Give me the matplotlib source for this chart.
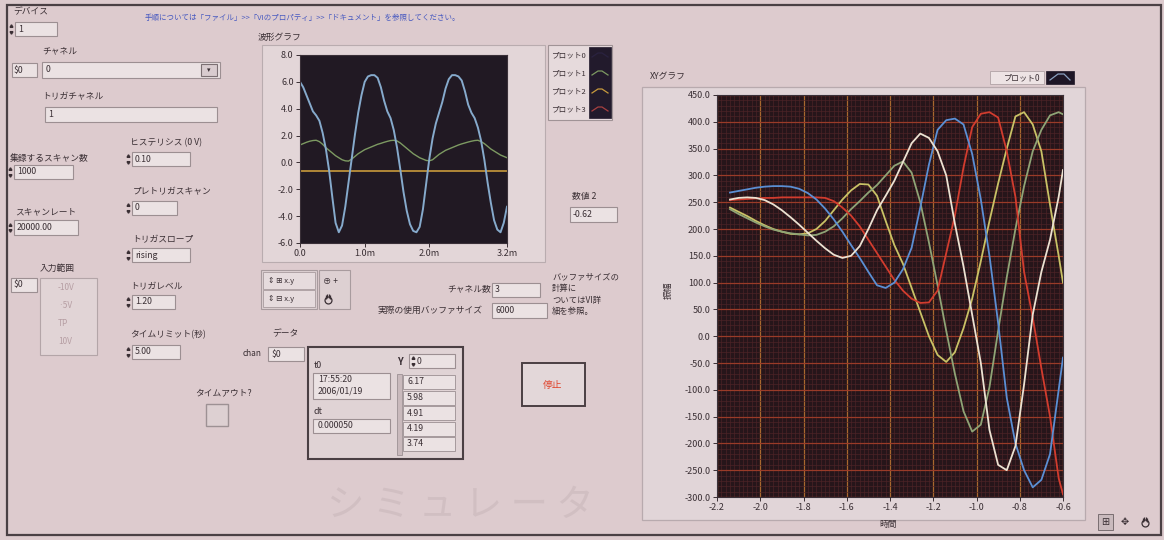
import matplotlib
matplotlib.use("Agg")
import matplotlib.pyplot as plt
from matplotlib.patches import Rectangle
from matplotlib.ticker import MultipleLocator, FixedLocator, FormatStrFormatter

plt.rcParams['font.family'] = ['Noto Sans CJK JP', 'DejaVu Sans']

# ---------------- 波形グラフ ----------------
wave_t_ms = [0.00, 0.05, 0.10, 0.15, 0.20, 0.25, 0.30, 0.35, 0.40, 0.45,
             0.50, 0.55, 0.60, 0.65, 0.70, 0.75, 0.80, 0.85, 0.90, 0.95,
             1.00, 1.05, 1.10, 1.15, 1.20, 1.25, 1.30, 1.35, 1.40, 1.45,
             1.50, 1.55, 1.60, 1.65, 1.70, 1.75, 1.80, 1.85, 1.90, 1.95,
             2.00, 2.05, 2.10, 2.15, 2.20, 2.25, 2.30, 2.35, 2.40, 2.45,
             2.50, 2.55, 2.60, 2.65, 2.70, 2.75, 2.80, 2.85, 2.90, 2.95,
             3.00, 3.05, 3.10, 3.15, 3.20]
wave_plot0 = [6.0, 5.6, 5.0, 4.4, 3.8, 3.5, 3.1, 2.2, 1.0, -0.6,
              -2.6, -4.5, -5.2, -4.7, -3.3, -1.5, 0.3, 2.1, 3.7, 5.0,
              6.0, 6.4, 6.5, 6.5, 6.3, 5.6, 4.6, 3.8, 3.3, 2.4,
              1.1, -0.5, -2.2, -3.6, -4.6, -5.1, -5.2, -4.8, -3.5, -1.6,
              0.3, 1.8, 2.9, 3.7, 4.5, 5.5, 6.2, 6.5, 6.5, 6.4,
              6.1, 5.3, 4.3, 3.7, 3.3, 2.6, 1.6, 0.2, -1.5, -3.0,
              -4.3, -5.0, -5.2, -4.5, -3.3]
wave_plot1 = [1.3, 1.4, 1.5, 1.58, 1.63, 1.65, 1.55, 1.35, 1.1, 0.9,
              0.7, 0.5, 0.35, 0.2, 0.12, 0.1, 0.25, 0.45, 0.65, 0.8,
              0.95, 1.05, 1.15, 1.25, 1.35, 1.42, 1.5, 1.57, 1.63, 1.65,
              1.6, 1.45, 1.25, 1.05, 0.85, 0.65, 0.5, 0.35, 0.25, 0.15,
              0.12, 0.2, 0.4, 0.6, 0.75, 0.9, 1.0, 1.1, 1.2, 1.3,
              1.38, 1.45, 1.52, 1.58, 1.63, 1.65, 1.55, 1.4, 1.2, 1.0,
              0.85, 0.7, 0.55, 0.45, 0.35]
wave_plot2_level = -0.62
wave_yticks = [-6.0, -4.0, -2.0, 0.0, 2.0, 4.0, 6.0, 8.0]
wave_xticks = [0.0, 1.0, 2.0, 3.2]
wave_xticklabels = ["0.0", "1.0m", "2.0m", "3.2m"]
wave_legend = ["プロット0", "プロット1", "プロット2", "プロット3"]

# ---------------- XYグラフ ----------------
xy_x = [-2.14, -2.10, -2.06, -2.02, -1.98, -1.94, -1.90, -1.86, -1.82, -1.78,
        -1.74, -1.70, -1.66, -1.62, -1.58, -1.54, -1.50, -1.46, -1.42, -1.38,
        -1.34, -1.30, -1.26, -1.22, -1.18, -1.14, -1.10, -1.06, -1.02, -0.98,
        -0.94, -0.90, -0.86, -0.82, -0.78, -0.74, -0.70, -0.66, -0.62, -0.60]
xy_blue = [268, 271, 274, 277, 279, 280, 280, 279, 275, 267,
           255, 238, 218, 195, 170, 146, 120, 95, 90, 100,
           125, 165, 240, 320, 385, 403, 406, 395, 340, 255,
           150, 25, -115, -200, -250, -282, -268, -220, -100, -40]
xy_red = [254, 255, 256, 257, 258, 258, 259, 259, 259, 259,
          259, 258, 252, 240, 225, 205, 180, 155, 130, 105,
          85, 70, 62, 63, 85, 155, 225, 315, 390, 415,
          418, 408, 345, 260, 120, 35, -60, -150, -265, -295]
xy_yellow = [240, 232, 224, 215, 207, 200, 195, 191, 190, 192,
             200, 215, 235, 255, 272, 284, 283, 262, 215, 170,
             135, 90, 45, 0, -35, -48, -30, 15, 70, 140,
             215, 285, 350, 410, 418, 395, 345, 245, 150, 100]
xy_white = [255, 258, 259, 258, 254, 246, 235, 222, 208, 193,
            178, 164, 152, 146, 150, 168, 200, 235, 262, 290,
            325, 360, 378, 370, 345, 300, 210, 130, 40, -50,
            -175, -240, -250, -205, -90, 40, 120, 180, 260, 310]
xy_green = [237, 228, 220, 212, 205, 199, 195, 192, 190, 188,
            189, 195, 205, 220, 237, 252, 268, 282, 300, 318,
            326, 305, 250, 175, 95, 10, -70, -140, -178, -165,
            -95, 10, 110, 200, 280, 345, 385, 412, 418, 414]
xy_xticks = [-2.2, -2.0, -1.8, -1.6, -1.4, -1.2, -1.0, -0.8, -0.6]
xy_yticks = [-300, -250, -200, -150, -100, -50, 0, 50, 100, 150, 200, 250, 300, 350, 400, 450]

# ---------------- front panel values ----------------
header_note = "手順については「ファイル」>>「VIのプロパティ」>>「ドキュメント」を参照してください。"
device_value = "1"
channel_value = "0"
trigger_channel_value = "1"
scans_value = "1000"
scan_rate_value = "20000.00"
hysteresis_value = "0.10"
pretrigger_value = "0"
slope_value = "rising"
trigger_level_value = "1.20"
time_limit_value = "5.00"
range_items = ["-10V", "·5V", "TP", "10V"]
channel_count_value = "3"
buffer_size_value = "6000"
numeric2_value = "-0.62"
t0_lines = ["17:55:20", "2006/01/19"]
dt_value = "0.000050"
data_y = ["6.17", "5.98", "4.91", "4.19", "3.74"]

W, H = 1164, 540
BG = "#ddcbce"
PANEL = "#e3d6d8"
FIELD = "#ebe2e3"
EDGE = "#9c8f92"
TXT = "#3a2f34"

fig = plt.figure(figsize=(W / 100, H / 100), dpi=100, facecolor=BG)
ui = fig.add_axes([0, 0, 1, 1])
ui.set_xlim(0, W)
ui.set_ylim(H, 0)
ui.axis("off")


def rect(x0, y0, x1, y1, fc, ec=EDGE, lw=0.8, z=1, alpha=1.0):
    ui.add_patch(Rectangle((x0, y0), x1 - x0, y1 - y0, facecolor=fc,
                           edgecolor=ec, lw=lw, zorder=z, alpha=alpha))


def txt(x, y, s, size=6.3, color=TXT, ha="left", va="center", **kw):
    ui.text(x, y, s, fontsize=size, color=color, ha=ha, va=va, zorder=5, **kw)


def spinner(x, y):
    ui.plot([x], [y - 2.6], marker=(3, 0, 0), ms=2.4, color=TXT, zorder=6)
    ui.plot([x], [y + 2.6], marker=(3, 0, 180), ms=2.4, color=TXT, zorder=6)


def field(x0, y0, x1, y1, s, spin=False, color=TXT):
    rect(x0, y0, x1, y1, FIELD, EDGE, lw=0.8, z=2)
    txt(x0 + 3, (y0 + y1) / 2, s, color=color)
    if spin:
        spinner(x0 - 4, (y0 + y1) / 2)


def hand_icon(x, y):
    # small open-hand pictogram for the panning tool
    ui.plot([x], [y + 1], marker="o", ms=5, mfc="none", mec=TXT, mew=0.9, zorder=6)
    ui.plot([x - 2, x - 0.7, x + 0.7, x + 2], [y - 2.5, y - 3.5, y - 3.5, y - 2.5],
            ls="none", marker="|", ms=3, color=TXT, mew=0.9, zorder=6)


# outer frame of the front panel
rect(7, 5, 1161, 535, "none", "#4a4044", lw=1.6, z=1)

# header and left controls
txt(145, 18, header_note, size=5.4, color="#4658c0")
txt(13, 12, "デバイス")
field(15, 22, 57, 36, device_value, spin=True)

txt(42, 51, "チャネル")
rect(12, 63, 37, 77, FIELD, EDGE, z=2)
txt(14, 70, "$0")
rect(42, 62, 220, 78, FIELD, EDGE, z=2)
txt(46, 70, channel_value)
rect(201, 64, 217, 76, "#d9cccf", "#7c7073", lw=0.8, z=3)
txt(209, 70, "▾", size=5, ha="center")

txt(42, 97, "トリガチャネル")
field(45, 107, 217, 122, trigger_channel_value)

txt(130, 143, "ヒステリシス (0 V)")
field(132, 152, 190, 166, hysteresis_value, spin=True)

txt(10, 158, "集録するスキャン数")
field(14, 165, 73, 179, scans_value, spin=True)

txt(133, 192, "プレトリガスキャン")
field(132, 201, 177, 215, pretrigger_value, spin=True)

txt(15, 212, "スキャンレート")
field(14, 220, 78, 235, scan_rate_value, spin=True)

txt(132, 240, "トリガスロープ")
field(132, 248, 190, 262, slope_value, spin=True)

txt(40, 268, "入力範囲")
rect(11, 278, 37, 292, FIELD, EDGE, z=2)
txt(13, 285, "$0")
rect(40, 278, 97, 355, "#e1d4d6", "#b3a5a8", lw=0.8, z=2)
for i, item in enumerate(range_items):
    txt(58, 288 + i * 18, item, color="#b69ea3", size=6)

txt(130, 287, "トリガレベル")
field(132, 295, 175, 309, trigger_level_value, spin=True)

txt(130, 335, "タイムリミット(秒)")
field(132, 345, 180, 359, time_limit_value, spin=True)

txt(195, 393, "タイムアウト?")
rect(206, 404, 228, 426, "#ddd0d2", "#9d9194", lw=1.0, z=2)

# data cluster
txt(272, 334, "データ")
txt(243, 353, "chan", size=6)
rect(268, 347, 304, 361, FIELD, EDGE, z=2)
txt(271, 354, "$0")
rect(308, 347, 463, 459, "#e0d3d5", "#4a3f43", lw=1.5, z=2)
txt(314, 365, "t0")
rect(313, 373, 390, 399, FIELD, EDGE, z=3)
txt(318, 380, t0_lines[0])
txt(318, 391, t0_lines[1])
txt(314, 412, "dt")
rect(313, 419, 390, 433, FIELD, EDGE, z=3)
txt(318, 426, dt_value)
txt(397, 362, "Y", size=7, weight="bold")
rect(409, 354, 455, 368, FIELD, EDGE, z=3)
spinner(413, 361)
txt(417, 361, "0")
rect(397, 374, 402, 455, "#c9b9bc", "#9d9194", lw=0.6, z=3)
for i, v in enumerate(data_y):
    rect(403, 375 + i * 15.5, 455, 389 + i * 15.5, FIELD, EDGE, lw=0.6, z=3)
    txt(407, 382 + i * 15.5, v)

# stop button
rect(522, 363, 585, 406, "#e3d7d9", "#4a3f43", lw=1.4, z=2)
txt(553, 385, "停止", color="#e0442c", ha="center", size=7)

# buffer size indicators
txt(447, 289, "チャネル数")
field(492, 283, 540, 297, channel_count_value)
txt(378, 310, "実際の使用バッファサイズ")
field(492, 303, 547, 318, buffer_size_value)
for i, line in enumerate(["バッファサイズの", "計算に", "ついてはVI詳", "細を参照。"]):
    txt(552, 277 + i * 11.5, line, size=6)

txt(572, 197, "数値 2")
field(570, 207, 617, 222, numeric2_value)

# graph palette buttons
rect(261, 270, 317, 309, "#ddd0d2", "#a89b9e", lw=0.8, z=2)
rect(263, 272, 315, 289, "#e6dbdd", "#a89b9e", lw=0.6, z=3)
rect(263, 290, 315, 307, "#e6dbdd", "#a89b9e", lw=0.6, z=3)
txt(268, 281, "⇕ ⊞ x.y", size=5.5)
txt(268, 299, "⇕ ⊟ x.y", size=5.5)
rect(319, 270, 350, 309, "#ddd0d2", "#a89b9e", lw=0.8, z=2)
txt(323, 281, "⊕ +", size=6)
hand_icon(328, 299)

# waveform graph frame
txt(258, 37, "波形グラフ")
rect(262, 45, 545, 262, PANEL, "#b9acaf", lw=0.8, z=1)

# waveform legend
rect(548, 45, 612, 120, "#e6dadc", "#a09396", lw=0.8, z=2)
rect(589, 47, 611, 118, "#221a2c", "#221a2c", lw=0.5, z=3)
legend_colors = ["#2a2240", "#7d9a62", "#c89a3c", "#a84040"]
for i, (lab, c) in enumerate(zip(wave_legend, legend_colors)):
    y = 55 + i * 18
    txt(551, y, lab, size=5.5)
    ui.plot([592, 598, 602, 608], [y + 2, y - 2, y - 2, y + 2], color=c, lw=0.9, zorder=4)

# XY graph frame
rect(642, 87, 1085, 520, "#e1d5d8", "#b8aaae", lw=0.9, z=1)
txt(650, 77, "XYグラフ")
rect(990, 71, 1044, 84, "#ede3e4", "#b0a2a5", lw=0.6, z=2)
txt(1040, 77.5, "プロット0", size=5.8, ha="right")
rect(1046, 71, 1074, 84, "#1e1626", "#1e1626", lw=0.5, z=2)
ui.plot([1050, 1058, 1064, 1070], [80, 74, 74, 80], color="#8aa0c0", lw=0.9, zorder=3)
txt(668, 290, "振幅", rotation=90, ha="center")
txt(888, 524, "時間", ha="center")

# bottom-right toolbar icons
rect(1098, 514, 1113, 530, "#c9babd", "#6c6064", lw=0.6, z=2)
txt(1105, 522, "⊞", size=7, ha="center")
txt(1125, 522, "✥", size=7, ha="center")
hand_icon(1145, 522)

# faint background caption
ui.text(460, 505, "シ ミ ュ レ ー タ", fontsize=27, color="#bfaeb2", alpha=0.4,
        ha="center", va="center", zorder=0.5)


def axes_px(x0, y0, x1, y1):
    return fig.add_axes([x0 / W, 1 - y1 / H, (x1 - x0) / W, (y1 - y0) / H])


# ---- waveform graph ----
ax1 = axes_px(300, 55, 507, 243)
ax1.set_facecolor("#211923")
ax1.plot(wave_t_ms, wave_plot1, color="#7d9a62", lw=1.0)
ax1.axhline(wave_plot2_level, color="#c89a3c", lw=1.2)
ax1.plot(wave_t_ms, wave_plot0, color="#86aacc", lw=1.4)
ax1.set_xlim(0, 3.2)
ax1.set_ylim(-6, 8)
ax1.yaxis.set_major_locator(FixedLocator(wave_yticks))
ax1.yaxis.set_major_formatter(FormatStrFormatter("%.1f"))
ax1.set_xticks(wave_xticks)
ax1.set_xticklabels(wave_xticklabels)
ax1.tick_params(labelsize=6.5, colors=TXT, length=3, width=0.7, pad=1.5)
for s in ax1.spines.values():
    s.set_color("#3a3038")
    s.set_linewidth(0.8)

# ---- XY graph ----
ax2 = axes_px(717, 95, 1063, 497)
ax2.set_facecolor("#26151a")
ax2.set_xlim(-2.2, -0.6)
ax2.set_ylim(-300, 450)
ax2.xaxis.set_major_locator(FixedLocator(xy_xticks))
ax2.yaxis.set_major_locator(FixedLocator(xy_yticks))
ax2.xaxis.set_minor_locator(MultipleLocator(0.02))
ax2.yaxis.set_minor_locator(MultipleLocator(10))
ax2.xaxis.set_major_formatter(FormatStrFormatter("%.1f"))
ax2.yaxis.set_major_formatter(FormatStrFormatter("%.1f"))
ax2.grid(which="minor", color="#4e2427", lw=0.45)
ax2.grid(which="major", axis="x", color="#a8672e", lw=0.9)
ax2.grid(which="major", axis="y", color="#9a3b28", lw=0.9)
ax2.set_axisbelow(True)
ax2.tick_params(which="major", labelsize=6.5, colors=TXT, length=3, width=0.7, pad=1.5)
ax2.tick_params(which="minor", length=0)
for s in ax2.spines.values():
    s.set_color("#3a3038")
    s.set_linewidth(0.8)

xy_series = [
    (xy_yellow, "#c9c266"),
    (xy_green, "#8fa476"),
    (xy_red, "#d23c2e"),
    (xy_blue, "#5b8fd4"),
    (xy_white, "#ece2d2"),
]
for ys, c in xy_series:
    ax2.plot(xy_x, ys, color=c, lw=1.3, zorder=3)

fig.savefig("out.png", dpi=100, facecolor=BG)
